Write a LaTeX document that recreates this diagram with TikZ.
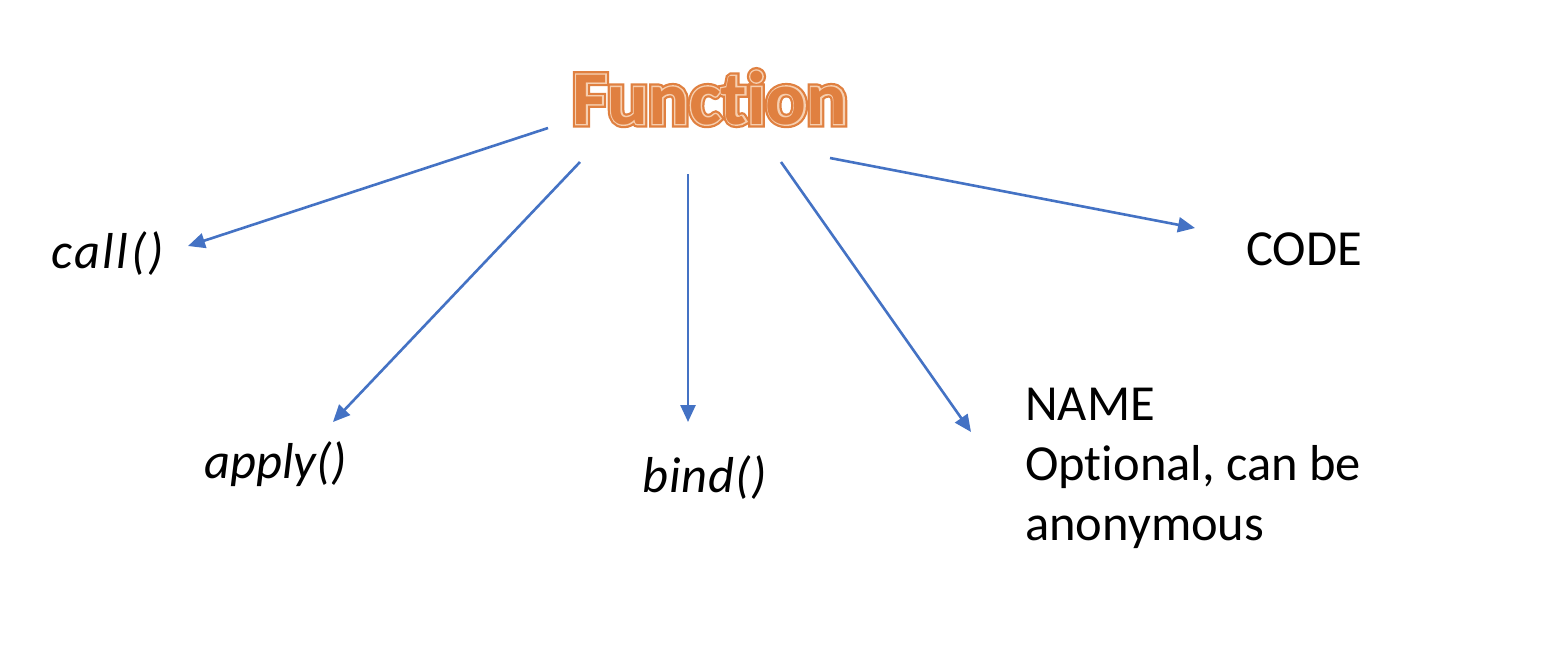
\documentclass[tikz,border=0pt]{standalone}
\usepackage{fontspec}
\setmainfont{Carlito}[Ligatures={NoCommon}]
\newfontfamily\funouter{Carlito Bold}[FakeBold=9.6,Ligatures={NoCommon}]
\newfontfamily\funinner{Carlito Bold}[FakeBold=3.7,Ligatures={NoCommon}]
\newfontfamily\funcore{Carlito Bold}[Ligatures={NoCommon}]
\usetikzlibrary{arrows.meta,calc}
\definecolor{fblue}{HTML}{4472C4}
\definecolor{forange}{HTML}{E08040}
\definecolor{fpeach}{HTML}{F6CFB0}
\newcommand{\funword}{Funct\kern0pt ion}
\begin{document}
\begin{tikzpicture}[x=1pt,y=-1pt,
  lbl/.style={inner sep=0pt, font=\fontsize{50.5}{60}\selectfont, anchor=base west},
  funtxt/.style={inner sep=0pt, anchor=base},
  conn/.style={draw=fblue, line width=2.6pt, -{Triangle[length=17pt,width=15pt]}}]
\useasboundingbox[fill=white] (0,0) rectangle (1546,654);
\coordinate (fb) at (710,124);
% Function title with outline effect
\node[funtxt, text=forange, font=\funouter\fontsize{76}{80}\selectfont] (fo) at (fb) {\funword};
\node[funtxt, text=fpeach, font=\funinner\fontsize{76}{80}\selectfont] (fp) at (fb) {\funword};
\node[funtxt, text=forange, font=\funcore\fontsize{76}{80}\selectfont] (fn) at (fb) {\funword};
% labels
\node[lbl] (call) at (51,268) {\itshape\addfontfeature{LetterSpace=5}call()};
\node[lbl] (apply) at (204,478) {\itshape apply()};
\node[lbl] (bind) at (642,492) {\itshape\addfontfeature{LetterSpace=2}bind()};
\node[lbl] (code) at (1246,265) {CODE};
\node[lbl] (name1) at (1025,420) {NAME};
\node[lbl] (name2) at (1025,480) {Opt\kern0pt ional, can be};
\node[lbl] (name3) at (1025,540) {anonymous};
% connector ends
\coordinate (s1) at (548,128); \coordinate (e1) at (188,246);
\coordinate (s2) at (580,162); \coordinate (e2) at (333,422);
\coordinate (s3) at (688,174); \coordinate (e3) at (688,422);
\coordinate (s4) at (781,162); \coordinate (e4) at (971,432);
\coordinate (s5) at (830,158); \coordinate (e5) at (1195,228);
\foreach \k in {1,...,5} \draw[conn] (s\k) -- (e\k);
\end{tikzpicture}
\end{document}
